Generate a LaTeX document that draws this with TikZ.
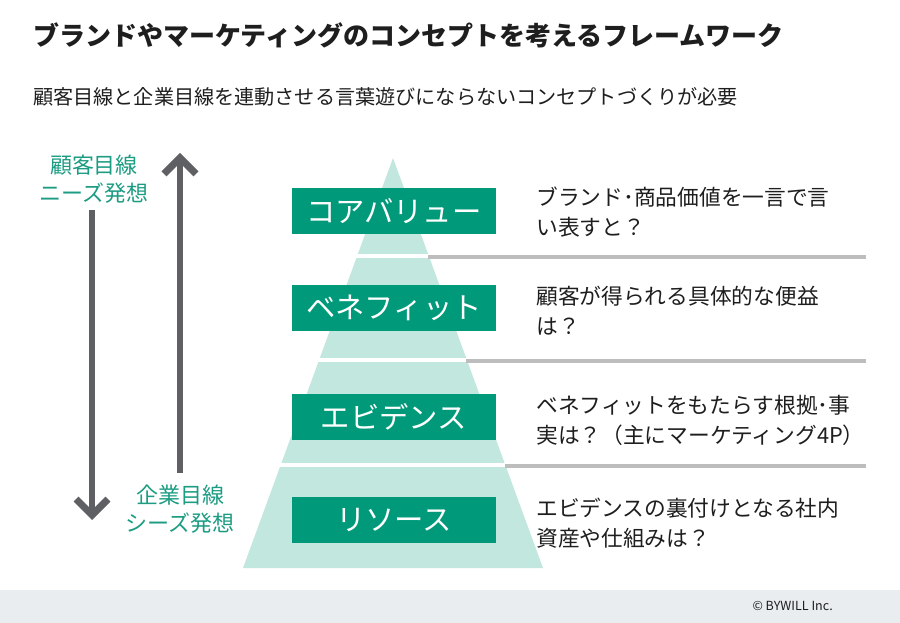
\documentclass[tikz,border=0pt]{standalone}
\usepackage{fontspec}
\setmainfont{Noto Sans CJK JP}
\usetikzlibrary{arrows.meta}
\definecolor{teal1}{HTML}{009A7B}
\definecolor{tealtxt}{HTML}{1C9C82}
\definecolor{mint}{HTML}{C2E7DE}
\definecolor{arrgray}{HTML}{5F6063}
\definecolor{linegray}{HTML}{BDBDBD}
\definecolor{footbg}{HTML}{E9EDF0}
\definecolor{txt}{HTML}{1E1E1E}
\tikzset{
  px/.style={x=0.75pt,y=-0.75pt},
  greenbox/.style={fill=teal1,text=white,minimum width=153pt,minimum height=34.5pt,inner sep=0pt,font=\fontsize{22pt}{24pt}\selectfont},
  desc/.style={anchor=west,text=txt,align=left,inner sep=0pt,font=\fontsize{16.3pt}{22.5pt}\selectfont},
  sidelabel/.style={text=tealtxt,align=center,inner sep=0pt,font=\fontsize{16.5pt}{21pt}\selectfont},
  bigarrow/.style={draw=arrgray,line width=5.2pt,-{Straight Barb[length=12pt,width=24pt,line width=5.2pt]}},
  sepline/.style={draw=linegray,line width=2.4pt},
}
\begin{document}
\begin{tikzpicture}[px]
\useasboundingbox (0,0) rectangle (900,623);
% footer
\fill[footbg] (0,590) rectangle (900,623);
\node[anchor=east,inner sep=0pt,text=txt,font=\fontsize{9.4pt}{11pt}\selectfont] (copy) at (833,606) {© BYWILL Inc.};
% title
\node[anchor=west,inner sep=0pt,text=txt,font=\fontsize{19.5pt}{22pt}\selectfont\bfseries] (title) at (33,35) {ブランドやマーケティングのコンセプトを考えるフレームワーク};
\node[anchor=west,inner sep=0pt,text=txt,font=\fontsize{15.1pt}{18pt}\selectfont] (sub) at (33,97) {顧客目線と企業目線を連動させる言葉遊びにならないコンセプトづくりが必要};
% pyramid
\coordinate (apex) at (393,158);
\coordinate (bl) at (243,568);
\coordinate (br) at (543,568);
\fill[mint] (apex) -- (br) -- (bl) -- cycle;
\foreach \yy in {256,360,465} {
  \draw[white,line width=3pt] (230,\yy) -- (560,\yy);
}
% gray lines
\coordinate (g1a) at (428,257); \coordinate (g1b) at (866,257);
\coordinate (g2a) at (466,361); \coordinate (g2b) at (866,361);
\coordinate (g3a) at (505,466); \coordinate (g3b) at (866,466);
\draw[sepline] (g1a) -- (g1b);
\draw[sepline] (g2a) -- (g2b);
\draw[sepline] (g3a) -- (g3b);
% boxes
\node[greenbox] (core) at (394,211) {コアバリュー};
\node[greenbox] (bene) at (394,308) {ベネフィット};
\node[greenbox] (evid) at (394,417) {エビデンス};
\node[greenbox] (reso) at (394,520) {リソース};
% descriptions
\node[desc] (d1) at (536,212) {ブランド･商品価値を一言で言\\い表すと？};
\node[desc] (d2) at (536,311) {顧客が得られる具体的な便益\\は？};
\node[desc] (d3) at (536,420) {ベネフィットをもたらす根拠･事\\実は？（主にマーケティング4P）};
\node[desc] (d4) at (536,523) {エビデンスの裏付けとなる社内\\資産や仕組みは？};
% side labels
\node[sidelabel] (cust) at (94,179) {顧客目線\\ニーズ発想};
\node[sidelabel] (corp) at (180,509) {企業目線\\シーズ発想};
% arrows
\coordinate (a1s) at (92,210);
\coordinate (a1e) at (92,520);
\coordinate (a2s) at (180,473);
\coordinate (a2e) at (180,153);
\draw[bigarrow] (a1s) -- (a1e);
\draw[bigarrow] (a2s) -- (a2e);
\end{tikzpicture}
\end{document}
